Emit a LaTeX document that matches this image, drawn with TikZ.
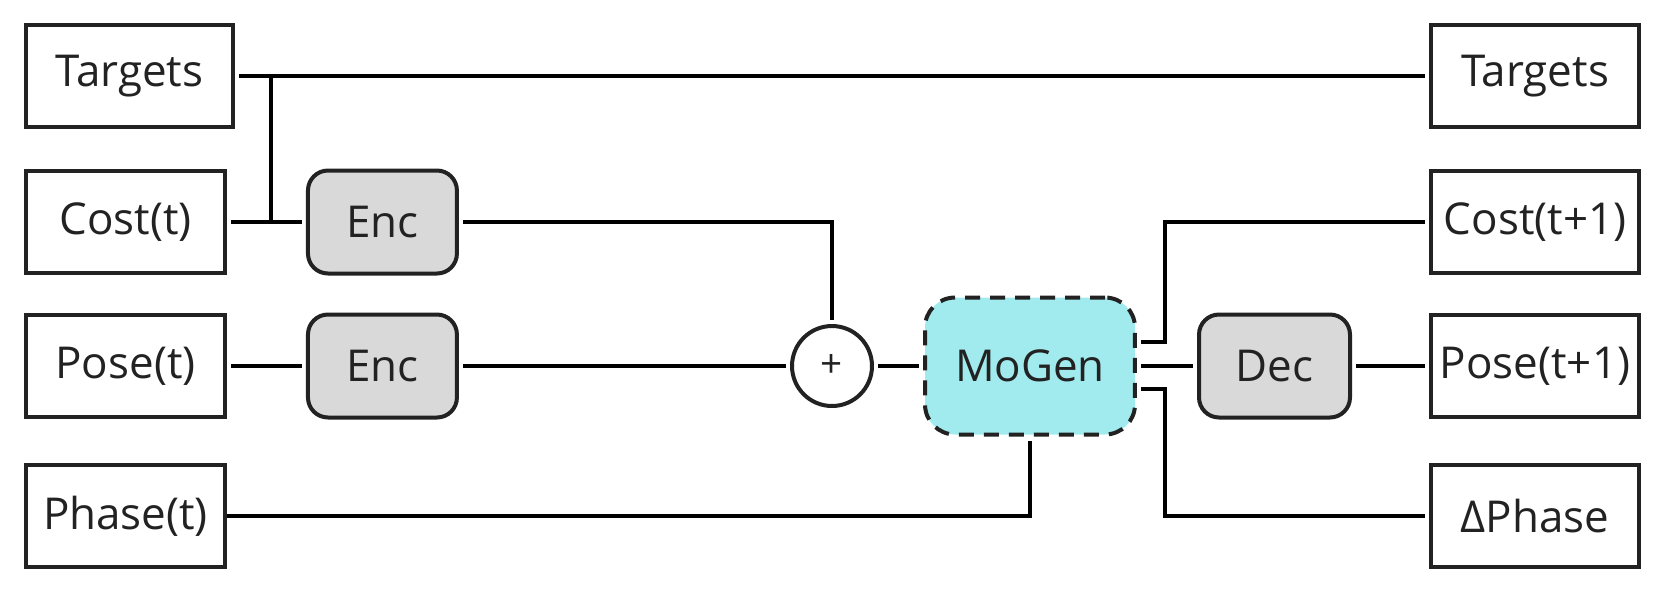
\documentclass[tikz,border=0pt]{standalone}
\usepackage{fontspec}
\setmainfont{Open Sans}
\usetikzlibrary{positioning}
\definecolor{InkDark}{RGB}{34,34,34}
\definecolor{EncGray}{RGB}{217,217,217}
\definecolor{GenCyan}{RGB}{161,235,238}

\begin{document}
\begin{tikzpicture}[
    x=0.02cm, y=-0.02cm,
    io/.style={rectangle, draw=InkDark, line width=0.08cm, fill=white, minimum width=3.98cm, minimum height=2.04cm, text=InkDark, font=\fontsize{25}{30}\selectfont},
    coder/.style={rectangle, draw=InkDark, line width=0.08cm, rounded corners=0.4cm, fill=EncGray, minimum width=2.98cm, minimum height=2.06cm, text=InkDark, font=\fontsize{25}{30}\selectfont},
    gen/.style={rectangle, draw=InkDark, line width=0.08cm, dash pattern=on 0.3cm off 0.2cm, rounded corners=0.6cm, fill=GenCyan, minimum width=4.2cm, minimum height=2.74cm, text=InkDark, font=\fontsize{25}{30}\selectfont},
    sum/.style={circle, draw=InkDark, line width=0.08cm, minimum size=1.6cm, inner sep=0pt, text=InkDark, font=\fontsize{22}{26}\selectfont},
    wire/.style={line width=0.08cm, color=black, shorten <=0.08cm, shorten >=0.08cm},
]
\useasboundingbox (0,0) rectangle (1666,600);

% inputs
\node[io, minimum width=4.14cm] (tgtL) at (129.5,76) {Targets};
\node[io] (costL) at (125.5,222) {Cost(t)};
\node[io] (poseL) at (125.5,366) {Pose(t)};
\node[io] (phaseL) at (125.5,516) {Phase(t)};

\node[coder, right=1.58cm of costL] (enc1) {Enc};
\node[coder, right=1.58cm of poseL] (enc2) {Enc};
\node[sum] (plus) at (832,366) {+};
\node[gen] (mogen) at (1030,366) {MoGen};
\node[coder, minimum width=3.02cm] (dec) at (1274.5,366) {Dec};

% outputs
\node[io, minimum width=4.16cm] (tgtR) at (1535,76) {Targets};
\node[io, minimum width=4.16cm] (costR) at (1535,222) {Cost(t+1)};
\node[io, minimum width=4.16cm] (poseR) at (1535,366) {Pose(t+1)};
\node[io, minimum width=4.16cm] (dphR) at (1535,516) {ΔPhase};

\coordinate (split) at (271,0);

% connections
\draw[wire] (tgtL.east) -- (tgtR.west);
\draw[line width=0.08cm] (tgtL.east -| split) -- (costL.east -| split);
\draw[wire] (costL.east) -- (enc1.west);
\draw[wire] (poseL.east) -- (enc2.west);
\draw[wire] (enc1.east) -| (plus.north);
\draw[wire] (enc2.east) -- (plus.west);
\draw[wire] (plus.east) -- (mogen.west);
\draw[wire, shorten <=0pt] (phaseL.east) -| (mogen.south);
\draw[wire] ([yshift=0.48cm]mogen.east) -- ++(28,0) |- (costR.west);
\draw[wire] (mogen.east) -- (dec.west);
\draw[wire] (dec.east) -- (poseR.west);
\draw[wire] ([yshift=-0.46cm]mogen.east) -- ++(28,0) |- (dphR.west);
\end{tikzpicture}
\end{document}
